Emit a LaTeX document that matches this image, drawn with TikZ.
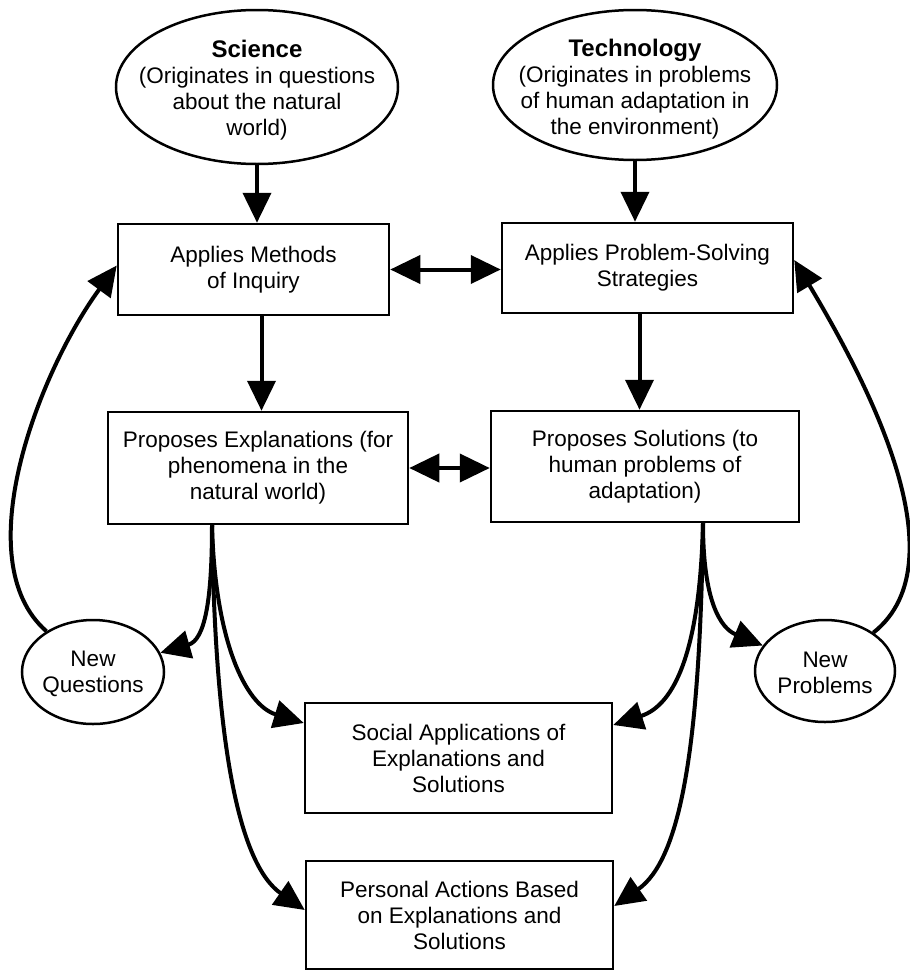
\documentclass[tikz,border=0pt]{standalone}
\usepackage{fontspec}
\setmainfont{Liberation Sans}
\usetikzlibrary{arrows.meta,shapes.geometric,calc}
\begin{document}
\begin{tikzpicture}[x=1pt,y=-1pt,
  every node/.style={font=\fontsize{22.5}{26}\selectfont},
  box/.style={draw, line width=2.5pt, rectangle, inner sep=0pt, align=center},
  oval/.style={draw, line width=2.5pt, ellipse, inner sep=0pt},
  lbl/.style={align=center, inner sep=0pt},
  title/.style={font=\fontsize{24}{26}\selectfont\bfseries},
  arr/.style={line width=4pt, -{Triangle[length=30pt,width=28pt]}},
  darr/.style={line width=4pt, {Triangle[length=30pt,width=28pt]}-{Triangle[length=30pt,width=28pt]}}
]
\useasboundingbox (0,0) rectangle (910,972);
\fill[white] (0,0) rectangle (910,972);

% top ellipses
\node[oval, minimum width=282pt, minimum height=154pt] (sci) at (257,87) {};
\node[lbl] (scit) at (257,90) {{\fontsize{24}{26}\selectfont\bfseries Science}\\(Originates in questions\\about the natural\\world)};
\node[oval, minimum width=284pt, minimum height=150pt] (tech) at (635,85) {};
\node[lbl] (techt) at (635,89) {{\fontsize{24}{26}\selectfont\bfseries Technology}\\(Originates in problems\\of human adaptation in\\the environment)};

% boxes
\node[box, minimum width=271pt, minimum height=91pt] (b1) at (253.5,269.5) {Applies Methods\\of Inquiry};
\node[box, minimum width=291pt, minimum height=90pt] (b2) at (647.5,268) {Applies Problem-Solving\\Strategies};
\node[box, minimum width=300pt, minimum height=112pt] (b3) at (258,468) {Proposes Explanations (for\\phenomena in the\\natural world)};
\node[box, minimum width=308pt, minimum height=111pt] (b4) at (645,466.5) {Proposes Solutions (to\\human problems of\\adaptation)};
\node[box, minimum width=307pt, minimum height=110pt] (b5) at (458.5,758) {Social Applications of\\Explanations and\\Solutions};
\node[box, minimum width=307pt, minimum height=108pt] (b6) at (459.5,915) {Personal Actions Based\\on Explanations and\\Solutions};

% small ellipses
\node[oval, minimum width=142pt, minimum height=104pt] (nq) at (93,672) {};
\node[lbl] (nqt) at (93,674) {New\\Questions};
\node[oval, minimum width=140pt, minimum height=102pt] (np) at (825,671) {};
\node[lbl] (npt) at (825,673) {New\\Problems};

% straight arrows
\draw[arr] (sci.south) -- (sci.south |- b1.north);
\draw[arr] (tech.south) -- (tech.south |- b2.north);
\draw[arr] ([xshift=8pt]b1.south) -- ([xshift=8pt]b1.south |- b3.north);
\draw[arr] ([xshift=-8pt]b2.south) -- ([xshift=-8pt]b2.south |- b4.north);
\draw[darr] (b1.east) -- (b1.east -| b2.west);
\draw[darr] (b3.east) -- (b3.east -| b4.west);

% curved arrows from science side
\draw[arr] ([xshift=-46pt]b3.south) .. controls (212,600) and (205,640) .. (nq);
\draw[arr] ([xshift=-46pt]b3.south) .. controls (215,640) and (245,705) .. ([yshift=35pt]b5.west);
\draw[arr] ([xshift=-46pt]b3.south) .. controls (215,750) and (240,865) .. ([yshift=5pt]b6.west);

% curved arrows from technology side
\draw[arr] ([xshift=58pt]b4.south) .. controls (703,600) and (720,628) .. (np);
\draw[arr] ([xshift=58pt]b4.south) .. controls (700,650) and (675,705) .. ([yshift=33pt]b5.east);
\draw[arr] ([xshift=58pt]b4.south) .. controls (700,750) and (680,860) .. ([yshift=9pt]b6.east);

% feedback loops
\draw[arr] (nq) .. controls (-35,560) and (40,370) .. ([yshift=4pt]b1.west);
\draw[arr] (np) .. controls (965,560) and (860,370) .. ([yshift=8pt]b2.east);
\end{tikzpicture}
\end{document}
